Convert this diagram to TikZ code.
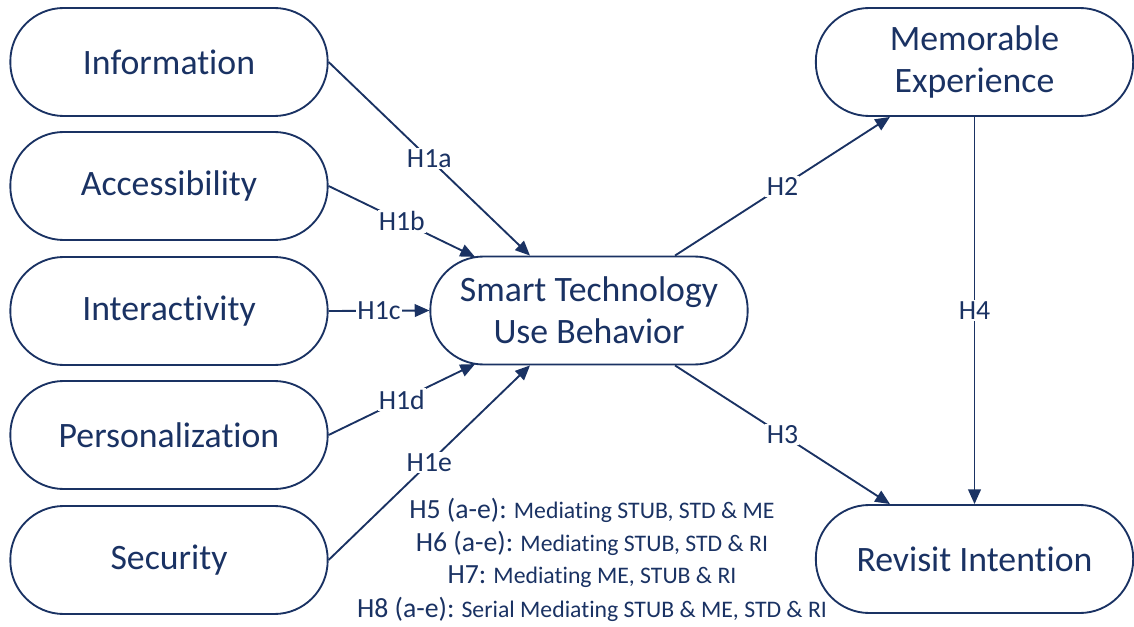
\documentclass[tikz,border=0pt]{standalone}
\usepackage{fontspec}
\setmainfont[Ligatures={NoCommon,NoRare,NoContextual},Contextuals=NoAlternate]{Carlito}
\usetikzlibrary{arrows.meta,calc}
\definecolor{navy}{HTML}{1A3263}
\newcommand{\smalltxt}{\fontsize{17.8}{20}\selectfont}
\begin{document}
\begin{tikzpicture}[x=0.75pt,y=-0.75pt,
  box/.style={draw=navy,line width=1.4pt,rounded corners=40pt,minimum width=238pt,minimum height=81pt,text=navy,font=\fontsize{26.8}{31.5}\selectfont,align=center,inner sep=0pt},
  link/.style={draw=navy,line width=1.4pt,-{Triangle[length=11pt,width=9.5pt]}},
  lab/.style={fill=white,text=navy,font=\fontsize{20.8}{24}\selectfont,inner sep=1pt,pos=0.5},
  note/.style={text=navy,font=\fontsize{20.8}{24}\selectfont,inner sep=0pt}]
\useasboundingbox (0,0) rectangle (1134,627);
\node[box] (info) at (169,62) {Information};
\node[box] (acc) at (169,186) {Accessibility};
\node[box] (inter) at (169,311) {Interactivity};
\node[box] (pers) at (169,435) {Personalization};
\node[box] (sec) at (169,560) {Security};
\node[box] (stub) at (589,310.5) {Smart Technology\\Use Behavior};
\node[box] (me) at (974.5,62) {Memorable\\Experience};
\node[box] (ri) at (974.5,559) {Revisit Intention};
\draw[link] (info.east) -- node[lab]{H1a} ([xshift=-44.25pt]stub.north);
\draw[link] (acc.east) -- node[lab]{H1b} ([xshift=-85.5pt,yshift=-1pt]stub.north);
\draw[link] (inter.east) -- node[lab]{H1c} (stub.west);
\draw[link] (pers.east) -- node[lab]{H1d} ([xshift=-85.5pt,yshift=1pt]stub.south);
\draw[link] (sec.east) -- node[lab]{H1e} ([xshift=-44.25pt]stub.south);
\draw[link] ([xshift=64.5pt]stub.north) -- node[lab]{H2} ([xshift=-63.4pt]me.south);
\draw[link] ([xshift=64.5pt]stub.south) -- node[lab]{H3} ([xshift=-63.4pt]ri.north);
\draw[link] (me.south) -- node[lab]{H4} (ri.north);
\node[note] (h5) at (592,510) {H5 (a-e):{\smalltxt{} Mediating STUB, STD \& ME}};
\node[note] (h6) at (592,543) {H6 (a-e):{\smalltxt{} Mediating STUB, STD \& RI}};
\node[note] (h7) at (592,577) {H7:{\smalltxt{} Mediating ME, STUB \& RI}};
\node[note] (h8) at (592,609) {H8 (a-e):{\smalltxt{} Serial Mediating STUB \& ME, STD \& RI}};
\end{tikzpicture}
\end{document}
